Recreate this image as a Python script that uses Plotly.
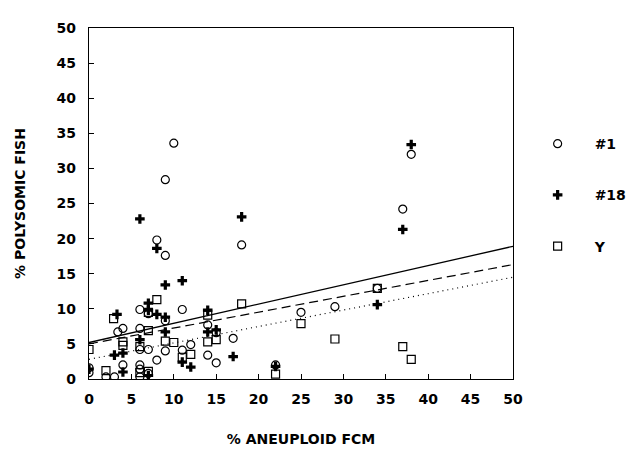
import plotly.graph_objects as go

# --- data -------------------------------------------------------------
chr1_x = [10, 9, 38, 37, 8, 9, 18, 11, 6, 34, 29, 25, 3.4, 4, 6, 7, 9, 14, 15, 17,
          12, 11, 14, 15, 7, 9, 8, 4, 0, 0, 2, 3, 6, 6, 6, 7, 22, 6]
chr1_y = [33.6, 28.4, 32.0, 24.2, 19.8, 17.6, 19.1, 9.9, 9.9, 12.9, 10.3, 9.5, 6.7, 7.2, 7.2, 9.3, 8.3, 7.7, 6.6, 5.8,
          4.9, 4.1, 3.4, 2.3, 4.2, 4.0, 2.7, 2.0, 1.6, 0.9, 0.3, 0.3, 2.0, 1.4, 0.3, 0.8, 2.0, 4.2]

chr18_x = [6, 8, 18, 38, 37, 9, 11, 7, 8, 9, 3.3, 14, 14, 15, 34, 6, 9, 3, 4, 11,
           12, 17, 0, 4, 7, 22, 7]
chr18_y = [22.8, 18.6, 23.1, 33.4, 21.3, 13.4, 14.0, 10.8, 9.2, 8.8, 9.2, 9.8, 6.7, 7.0, 10.6, 5.6, 6.7, 3.4, 3.7, 2.4,
           1.7, 3.2, 1.4, 1.0, 0.5, 1.8, 9.8]

chrY_x = [8, 18, 2.9, 7, 7, 14, 34, 25, 29, 37, 38, 0, 4, 6, 9, 10, 14, 15, 12, 11,
          2, 6, 7, 22, 4]
chrY_y = [11.3, 10.7, 8.6, 9.5, 6.9, 9.1, 12.9, 7.9, 5.7, 4.6, 2.8, 4.2, 4.8, 4.6, 5.4, 5.2, 5.3, 5.6, 3.5, 3.1,
          1.2, 0.9, 1.1, 0.7, 5.3]

fit_x = [0, 50]
fit_solid_y = [5.2, 18.9]
fit_dashed_y = [5.0, 16.3]
fit_dotted_y = [2.8, 14.5]

x_ticks = list(range(0, 51, 5))
y_ticks = list(range(0, 51, 5))

# --- figure -----------------------------------------------------------
FONT = "DejaVu Sans"
fig = go.Figure()

fig.add_trace(go.Scatter(x=fit_x, y=fit_solid_y, mode="lines", showlegend=False,
                         line=dict(color="black", width=1.3)))
fig.add_trace(go.Scatter(x=fit_x, y=fit_dashed_y, mode="lines", showlegend=False,
                         line=dict(color="black", width=1.2, dash="9px,5px")))
fig.add_trace(go.Scatter(x=fit_x, y=fit_dotted_y, mode="lines", showlegend=False,
                         line=dict(color="black", width=1.2, dash="1px,4px")))

fig.add_trace(go.Scatter(x=chr1_x, y=chr1_y, mode="markers", name="#1", legendgroup="a",
                         marker=dict(symbol="circle-open", size=8, color="black",
                                     line=dict(width=1.2, color="black"))))
fig.add_trace(go.Scatter(x=chr18_x, y=chr18_y, mode="markers", name="#18", legendgroup="b",
                         marker=dict(symbol="cross", size=8, color="black",
                                     line=dict(width=0))))
fig.add_trace(go.Scatter(x=chrY_x, y=chrY_y, mode="markers", name="Y", legendgroup="c",
                         marker=dict(symbol="square-open", size=8, color="black",
                                     line=dict(width=1.2, color="black"))))

axis_common = dict(
    showline=True, linecolor="black", linewidth=1.2, mirror=True,
    ticks="inside", ticklen=5, tickcolor="black", tickwidth=1,
    showgrid=False, zeroline=False,
    tickfont=dict(family=FONT, size=14, color="black", weight="bold"),
)

fig.update_xaxes(range=[0, 50], tickvals=x_ticks, ticktext=[str(v) for v in x_ticks],
                 title=dict(text="% ANEUPLOID FCM", standoff=28,
                            font=dict(family=FONT, size=14, color="black", weight="bold")),
                 ticklabelstandoff=7, **axis_common)
fig.update_yaxes(range=[0, 50], tickvals=y_ticks, ticktext=[str(v) for v in y_ticks],
                 title=dict(text="% POLYSOMIC FISH", standoff=27,
                            font=dict(family=FONT, size=14, color="black", weight="bold")),
                 ticklabelstandoff=9, **axis_common)

fig.update_layout(
    width=636, height=449,
    margin=dict(l=81, r=108, t=13, b=77),
    paper_bgcolor="white", plot_bgcolor="white",
    showlegend=True,
    legend=dict(x=1.018, y=0.715, xanchor="left", yanchor="top",
                font=dict(family=FONT, size=14, color="black", weight="bold"),
                itemwidth=64, tracegroupgap=30, bgcolor="rgba(0,0,0,0)"),
)

fig.write_html("out.html")
